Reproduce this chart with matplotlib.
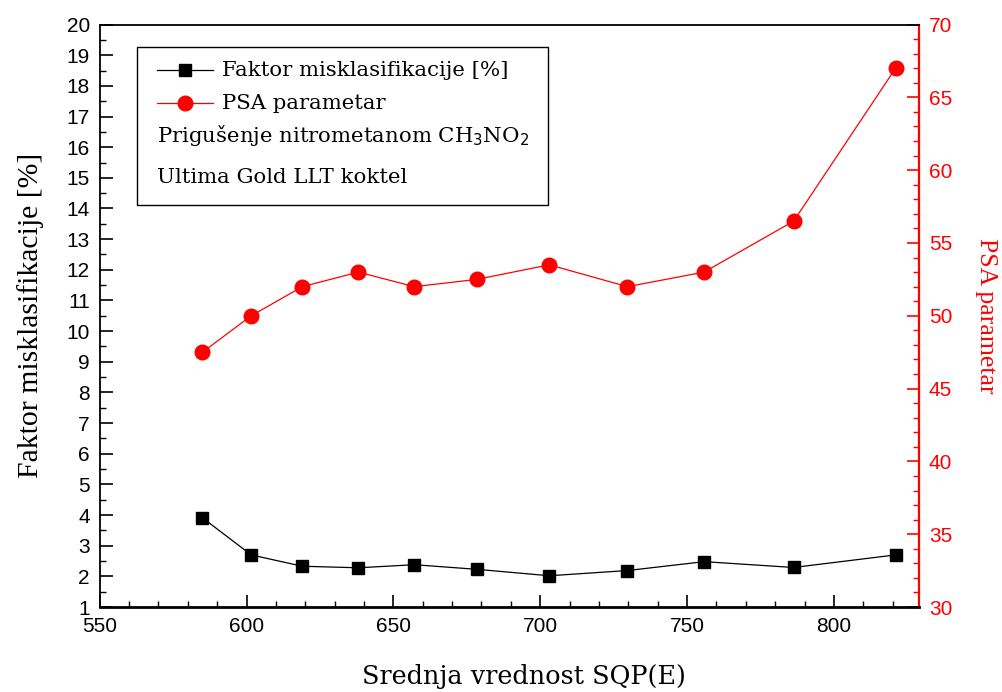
import matplotlib
matplotlib.use("Agg")
import matplotlib.pyplot as plt
from matplotlib.ticker import MultipleLocator
from matplotlib.lines import Line2D
from matplotlib.patches import Rectangle

sqp = [585.0, 601.6, 619.0, 638.1, 657.1, 678.4, 703.1, 729.7, 755.8, 786.3, 821.0]
faktor = [3.91, 2.70, 2.33, 2.28, 2.38, 2.23, 2.02, 2.19, 2.48, 2.29, 2.70]
psa = [47.5, 50.0, 52.0, 53.0, 52.0, 52.5, 53.5, 52.0, 53.0, 56.5, 67.0]

label_faktor = "Faktor misklasifikacije [%]"
label_psa = "PSA parametar"
note1 = "Prigušenje nitrometanom CH$_3$NO$_2$"
note2 = "Ultima Gold LLT koktel"
xlabel = "Srednja vrednost SQP(E)"

tickfont = "Liberation Sans"
serif_label = "Liberation Serif"
serif_leg = "DejaVu Serif"

fig = plt.figure(figsize=(10.03, 6.92), dpi=100)
ax = fig.add_axes([0.0994, 0.1228, 0.8169, 0.8417])
ax2 = ax.twinx()

ax.plot(sqp, faktor, color="black", lw=0.9, marker="s", ms=9, mfc="black", mec="black")
ax2.plot(sqp, psa, color="red", lw=0.9, marker="o", ms=10.5, mfc="red", mec="red")

ax.set_xlim(550, 829)
ax.set_ylim(1, 20)
ax2.set_ylim(30, 70)

ax.xaxis.set_major_locator(MultipleLocator(50))
ax.xaxis.set_minor_locator(MultipleLocator(10))
ax.yaxis.set_major_locator(MultipleLocator(1))
ax.yaxis.set_minor_locator(MultipleLocator(0.5))
ax2.yaxis.set_major_locator(MultipleLocator(5))
ax2.yaxis.set_minor_locator(MultipleLocator(1))

ax.tick_params(axis="both", which="major", direction="in", length=9, width=1.2,
               labelsize=15, pad=7, top=False, right=False)
ax.tick_params(axis="both", which="minor", direction="in", length=4.5, width=1.0,
               top=False, right=False)
ax2.tick_params(axis="y", which="major", direction="in", length=9, width=1.2,
                labelsize=15, pad=7, colors="red")
ax2.tick_params(axis="y", which="minor", direction="in", length=4.5, width=1.0, colors="red")

for lab in ax.get_xticklabels() + ax.get_yticklabels() + ax2.get_yticklabels():
    lab.set_fontfamily(tickfont)

for sp in ["left", "top", "bottom"]:
    ax.spines[sp].set_linewidth(1.3)
ax.spines["bottom"].set_linewidth(2.0)
ax.spines["right"].set_visible(False)
ax2.spines["right"].set_color("red")
ax2.spines["right"].set_linewidth(1.6)
for sp in ["left", "top", "bottom"]:
    ax2.spines[sp].set_visible(False)

ax.set_ylabel(label_faktor, fontsize=21.4, family=serif_label, labelpad=16)
ax2.set_ylabel(label_psa, fontsize=18.5, family=serif_label, color="red", rotation=270, labelpad=32)
ax.set_xlabel(xlabel, fontsize=18.4, family=serif_leg)
ax.xaxis.set_label_coords(0.518, -0.097)

# legend box (drawn manually)
box = Rectangle((0.0455, 0.690), 0.5017, 0.2715, transform=ax.transAxes,
                facecolor="white", edgecolor="black", lw=1.0, zorder=5)
ax.add_patch(box)
ax.set_zorder(ax2.get_zorder() + 1)
ax.patch.set_visible(False)

hx0, hx1, hm, tx = 0.0695, 0.1384, 0.1038, 0.1489
rows = [0.9219, 0.8653, 0.8098, 0.7376]
fs = 15.3
ax.add_line(Line2D([hx0, hx1], [rows[0]] * 2, transform=ax.transAxes, color="black", lw=0.9, zorder=6))
ax.add_line(Line2D([hm], [rows[0]], transform=ax.transAxes, marker="s", ms=9, color="black", zorder=6))
ax.add_line(Line2D([hx0, hx1], [rows[1]] * 2, transform=ax.transAxes, color="red", lw=0.9, zorder=6))
ax.add_line(Line2D([hm], [rows[1]], transform=ax.transAxes, marker="o", ms=10.5, color="red", zorder=6))
ax.text(tx, rows[0], label_faktor, transform=ax.transAxes, fontsize=fs, family=serif_leg, va="center", zorder=7)
ax.text(tx, rows[1], label_psa, transform=ax.transAxes, fontsize=fs, family=serif_leg, va="center", zorder=7)
ax.text(hx0, rows[2], note1, transform=ax.transAxes, fontsize=fs, family=serif_leg, va="center", zorder=7)
ax.text(hx0, rows[3], note2, transform=ax.transAxes, fontsize=fs, family=serif_leg, va="center", zorder=7)

fig.savefig("out.png", dpi=100)
